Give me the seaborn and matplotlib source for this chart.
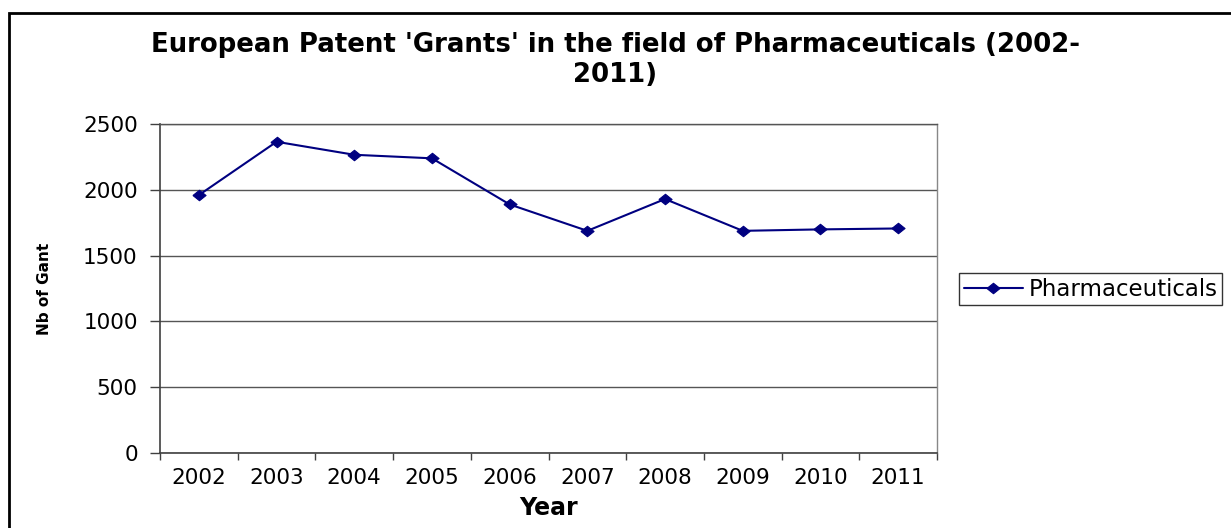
import numpy as np
import pandas as pd
import matplotlib
matplotlib.use("Agg")
import matplotlib.pyplot as plt
import seaborn as sns
from matplotlib.patches import Rectangle

# Data
years = ["2002", "2003", "2004", "2005", "2006", "2007", "2008", "2009", "2010", "2011"]
grants = [1961, 2367, 2268, 2241, 1890, 1689, 1931, 1689, 1700, 1707]
y_ticks = [0, 500, 1000, 1500, 2000, 2500]
series_name = "Pharmaceuticals"

df = pd.DataFrame({"Year": years, "Grants": grants})

sns.set_theme(style="white")
plt.rcParams["font.family"] = ["DejaVu Sans"]

W, H = 1231, 528
fig = plt.figure(figsize=(W / 100, H / 100), dpi=100)
ax = fig.add_axes([160 / W, 1 - 452.7 / H, (937 - 160) / W, (452.7 - 124.3) / H])

diamond = [(-1, 0), (0, 0.8), (1, 0), (0, -0.8), (-1, 0)]
sns.lineplot(data=df, x="Year", y="Grants", ax=ax, color="#000080",
             linewidth=1.5, marker=diamond, markersize=9.5,
             markeredgecolor="#000080", markerfacecolor="#000080",
             label=series_name)

ax.set_xlim(-0.5, len(years) - 0.5)
ax.set_ylim(0, 2500)
ax.set_yticks(y_ticks)
ax.set_yticklabels([str(v) for v in y_ticks], fontsize=15.5, color="black")

ax.set_xticks(np.arange(-0.5, len(years), 1.0))
ax.set_xticklabels([])
ax.set_xticks(np.arange(len(years)), minor=True)
ax.set_xticklabels(years, minor=True, fontsize=15.5, color="black")
ax.tick_params(axis="x", which="major", direction="out", length=5, width=1,
               color="#404040", bottom=True)
ax.tick_params(axis="x", which="minor", length=0, pad=11, bottom=True)
ax.tick_params(axis="y", direction="out", length=7, width=1, color="#404040",
               pad=9, left=True)

ax.grid(axis="y", color="#555555", linewidth=1)
ax.grid(axis="x", visible=False)
ax.set_axisbelow(True)

for side in ["left", "bottom"]:
    ax.spines[side].set_color("#404040")
    ax.spines[side].set_linewidth(1.2)
ax.spines["right"].set_color("#888888")
ax.spines["right"].set_linewidth(1)
ax.spines["top"].set_color("#555555")
ax.spines["top"].set_linewidth(1)

ax.set_xlabel("Year", fontsize=17, fontweight="bold", color="black", labelpad=6)
ax.set_ylabel("Nb of Gant", fontsize=11, fontweight="bold", color="black", labelpad=22)

# two-line chart title
fig.text(0.5, 1 - 60 / H, "European Patent 'Grants' in the field of Pharmaceuticals (2002-\n2011)",
         ha="center", va="center", fontsize=18.7, fontweight="bold", color="black",
         linespacing=1.2)

leg = ax.legend(loc="upper left", bbox_to_anchor=(959 / W, 1 - 273 / H),
                bbox_transform=fig.transFigure, borderaxespad=0, frameon=True,
                fancybox=False, fontsize=16.5, handlelength=2.6, handletextpad=0.25,
                borderpad=0.2, labelcolor="black")
leg.get_frame().set_edgecolor("black")
leg.get_frame().set_linewidth(1)

# outer chart frame
fig.patches.append(Rectangle((8.5 / W, -0.1), 1.2, 1 - 13.5 / H + 0.1,
                             transform=fig.transFigure, fill=False,
                             edgecolor="black", linewidth=2))

fig.savefig("out.png", dpi=100, facecolor="white")
